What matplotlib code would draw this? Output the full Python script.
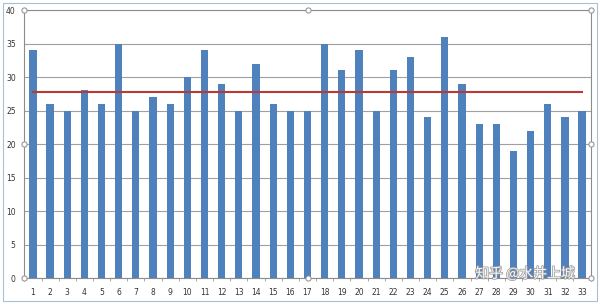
import matplotlib.pyplot as plt
import matplotlib.patheffects as pe
import numpy as np
from matplotlib.patches import Rectangle

categories = [str(i) for i in range(1, 34)]
values = [34, 26, 25, 28, 26, 35, 25, 27, 26, 30, 34, 29, 25, 32, 26, 25, 25,
          35, 31, 34, 25, 31, 33, 24, 36, 29, 23, 23, 19, 22, 26, 24, 25]
mean_value = 27.8
y_ticks = [0, 5, 10, 15, 20, 25, 30, 35, 40]

fig = plt.figure(figsize=(6, 3.04), dpi=100)
ax = fig.add_axes([0.04, 0.0855, 0.945, 0.8815])

x = np.arange(1, len(values) + 1)
ax.bar(x, values, width=0.42, color="#4F81BD", zorder=2)
ax.plot(x, [mean_value] * len(x), color="#B83A32", lw=1.5, zorder=3)

ax.set_xlim(0.48, 33.52)
ax.set_ylim(0, 40)
ax.set_yticks(y_ticks)
ax.set_xticks(x)
ax.set_xticklabels(categories)
ax.set_xticks(np.arange(0.5, 34, 1), minor=True)
ax.tick_params(axis="x", which="major", length=0, labelsize=5.5, pad=7, colors="#333333")
ax.tick_params(axis="x", which="minor", length=2, color="#999999")
ax.tick_params(axis="y", length=0, labelsize=5.5, pad=6, colors="#333333")
ax.grid(axis="y", color="#A0A0A0", lw=0.8, zorder=1)
for s in ax.spines.values():
    s.set_color("#8C8C8C")
    s.set_linewidth(0.8)

# selection handles on the plot area
hx = [0, 0, 0, 0.5, 1, 1, 1, 0.5]
hy = [0, 0.5, 1, 1, 1, 0.5, 0, 0]
ax.scatter(hx, hy, s=14, facecolor="white", edgecolor="#8C8C8C", lw=0.7,
           transform=ax.transAxes, clip_on=False, zorder=5)

# outer chart frame
fig.patches.append(Rectangle((0.005, 0.01), 0.99, 0.98, transform=fig.transFigure,
                             fill=False, edgecolor="#A8C0D0", lw=0.8))

# watermark
fig.text(0.875, 0.1, "知乎 @水井上城", color="white", alpha=0.9, fontsize=10,
         family=["Noto Sans CJK SC", "DejaVu Sans"], ha="center", va="center", zorder=6,
         path_effects=[pe.withStroke(linewidth=1.2, foreground="#9A9A9A")])

fig.savefig("out.png", dpi=100)
